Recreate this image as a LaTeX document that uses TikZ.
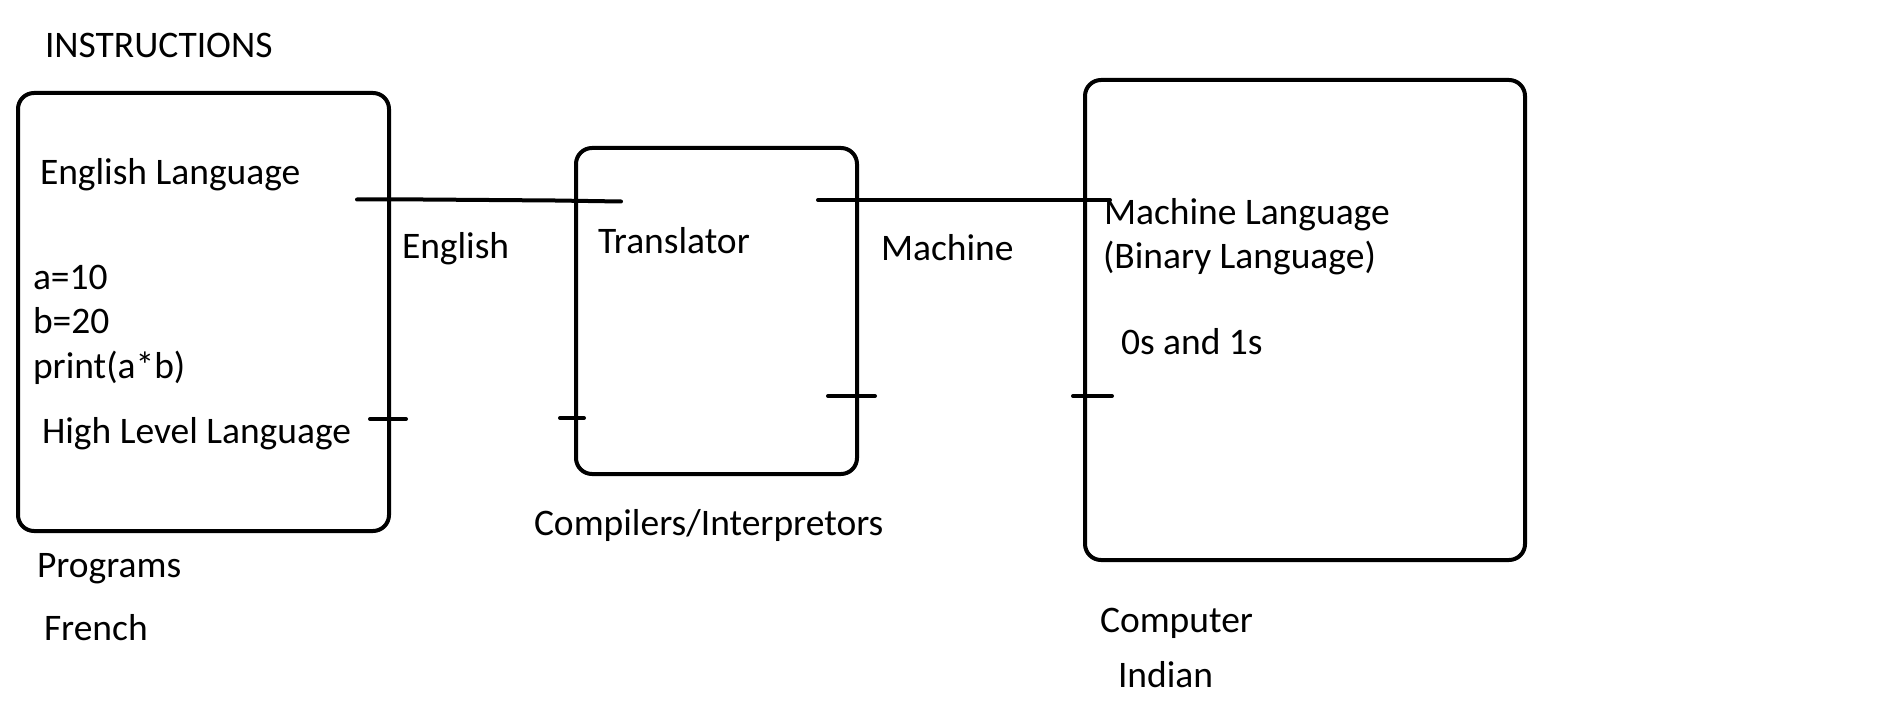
\documentclass[tikz,border=0pt]{standalone}
\usepackage{fontspec}
\setmainfont{Carlito}
\begin{document}
\begin{tikzpicture}[x=1pt,y=-1pt,line width=4pt,line cap=round,
  box/.style={draw,rounded corners=16pt,inner sep=0pt},
  lbl/.style={anchor=base west,inner sep=0pt,font=\fontsize{37.5}{44}\selectfont}]
\useasboundingbox (0,0) rectangle (1879,703);
% boxes
\node[box,minimum width=371pt,minimum height=438pt] (b1) at (203.5,312) {};
\node[box,minimum width=281pt,minimum height=326pt] (b2) at (716.5,311) {};
\node[box,minimum width=440pt,minimum height=480pt] (b3) at (1305,320) {};
% texts
\node[lbl] (instr) at (43,58) {INSTRUCTIONS};
\node[lbl] (englang) at (38,185) {English Language};
\node[lbl] (a10) at (31,290) {a=10};
\node[lbl] (b20) at (31,334) {b=20};
\node[lbl] (prt) at (31,378) {print(a*b)};
\node[lbl] (hll) at (40,443) {High Level Language};
\node[lbl] (prog) at (35,577) {Programs};
\node[lbl] (french) at (42,640) {French};
\node[lbl] (english) at (400,259) {English};
\node[lbl] (transl) at (596,254) {Translator};
\node[lbl] (compil) at (532,535) {Compilers/Interpretors};
\node[lbl] (machine) at (879,261) {Machine};
\node[lbl] (mlang) at (1102,225) {Machine Language};
\node[lbl] (blang) at (1101,269) {(Binary Language)};
\node[lbl] (bits) at (1119,354) {0s and 1s};
\node[lbl] (comp) at (1098,632) {Computer};
\node[lbl] (indian) at (1116,687) {Indian};
% connectors
\coordinate (e1) at (357,199.5);
\coordinate (e2) at (621,201.5);
\draw (e1) -- (423,199.5) -- (555,200.5) -- (e2);
\coordinate (m1) at (818,200);
\coordinate (m2) at (1110,200);
\draw (m1) -- (m2);
% ticks
\coordinate (t1a) at (370,419); \coordinate (t1b) at (406,419);
\draw (t1a) -- (t1b);
\coordinate (t2a) at (560,418); \coordinate (t2b) at (584,418);
\draw (t2a) -- (t2b);
\coordinate (t3a) at (828,396); \coordinate (t3b) at (875,396);
\draw (t3a) -- (t3b);
\coordinate (t4a) at (1073,396); \coordinate (t4b) at (1112,396);
\draw (t4a) -- (t4b);
\end{tikzpicture}
\end{document}
